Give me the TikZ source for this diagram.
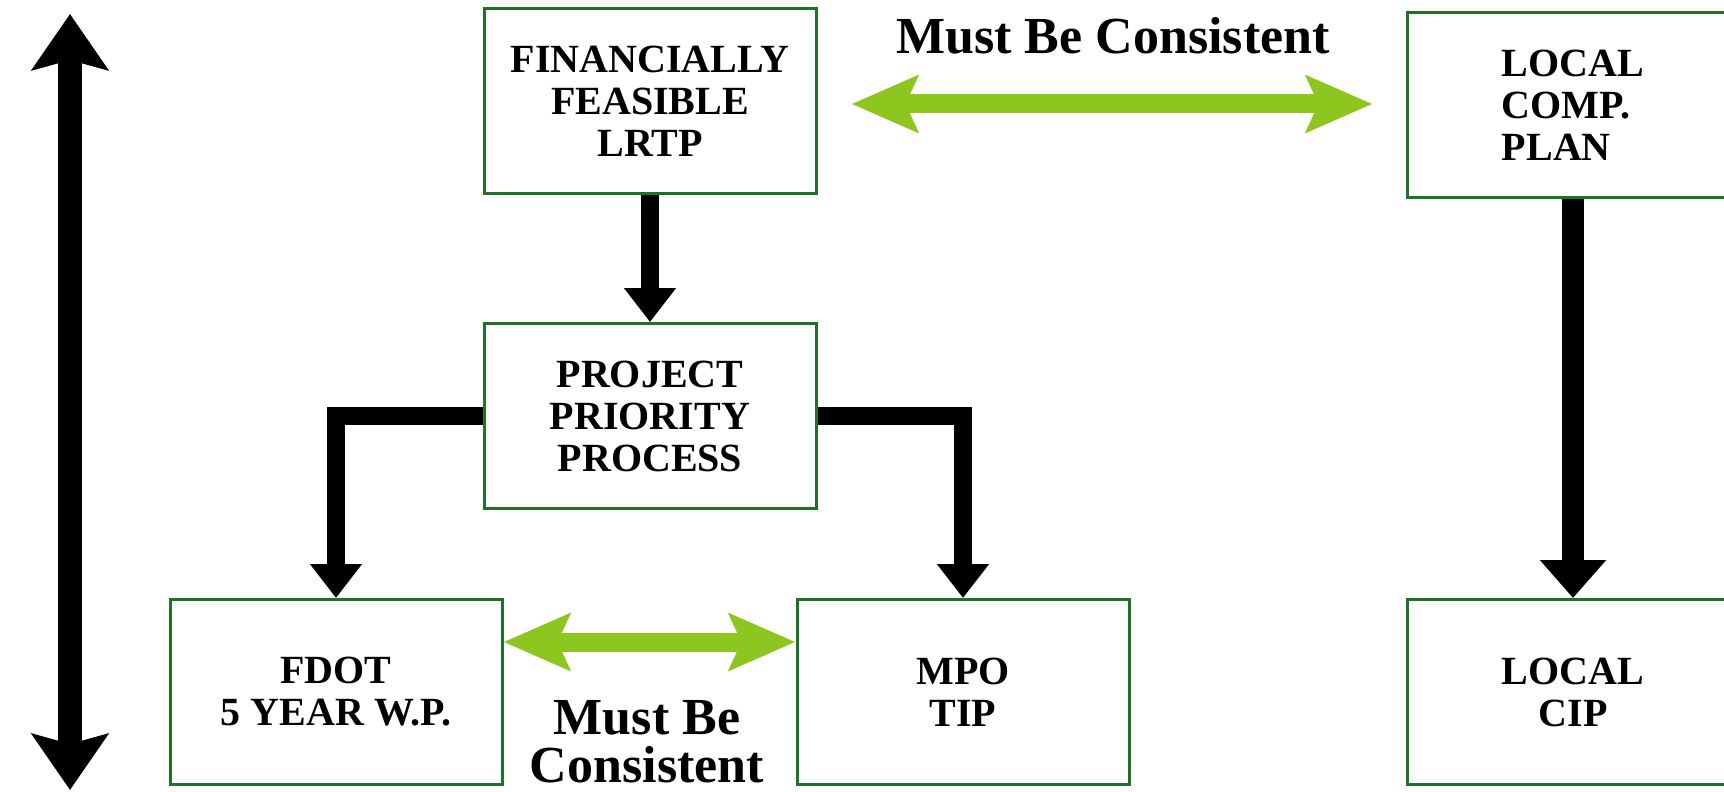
\documentclass[tikz,border=0pt]{standalone}
\usepackage{fontspec}
\setmainfont{Liberation Serif}
\usepackage{xcolor}
\usepackage{tikz}
\usetikzlibrary{arrows.meta}
\definecolor{boxgreen}{RGB}{30,115,40}
\definecolor{consgreen}{RGB}{141,198,31}

\begin{document}
\begin{tikzpicture}[x=0.5pt,y=-0.5pt,
    box/.style={draw=boxgreen,line width=1.5pt,fill=white,minimum width=166pt,minimum height=92.5pt,inner sep=0pt,align=center,font=\bfseries\fontsize{20}{21}\selectfont},
    flow/.style={line width=9pt,-{Triangle[width=25pt,length=17pt]}},
    both/.style={consgreen,line width=9.5pt,{Stealth[width=28pt,length=33pt,inset=6pt]}-{Stealth[width=28pt,length=33pt,inset=6pt]}},
    note/.style={align=center,font=\bfseries\fontsize{26}{24}\selectfont}]
    \useasboundingbox (0,0) rectangle (1724,792);
    % boxes
    \node[box] (fin) at (650,101) {FINANCIALLY\\FEASIBLE\\LRTP};
    \node[box] (ppp) at (650,416) {PROJECT\\PRIORITY\\PROCESS};
    \node[box] (fdot) at (336,692) {FDOT\\5 YEAR W.P.};
    \node[box] (mpo) at (963,692) {MPO\\TIP};
    \node[box,align=left] (lcp) at (1573,105) {LOCAL\\COMP.\\PLAN};
    \node[box] (cip) at (1573,692) {LOCAL\\CIP};
    \node[note] (top) at (1113,36) {Must Be Consistent};
    \node[note] (bottom) at (647,742) {Must Be\\Consistent};
    \coordinate (up) at (70,14);
    \coordinate (down) at (70,790);
    % arrows
    \draw[flow] (fin) to (ppp);
    \draw[flow] (ppp.west) -| (fdot.north);
    \draw[flow] (ppp.east) -| (mpo.north);
    \draw[line width=11pt,-{Triangle[width=32pt,length=19pt]}] (lcp) to (cip);
    \draw[both] ([xshift=17pt,yshift=-1.5pt]fin.east) to ([xshift=-16.5pt,yshift=-1.5pt]lcp.west |- fin.east);
    \draw[both] ([yshift=25pt]fdot.east) to ([yshift=25pt]mpo.west);
    \draw[line width=12pt,{Stealth[width=38pt,length=28pt,inset=5pt]}-{Stealth[width=38pt,length=28pt,inset=5pt]}] (up) to (down);
\end{tikzpicture}
\end{document}
